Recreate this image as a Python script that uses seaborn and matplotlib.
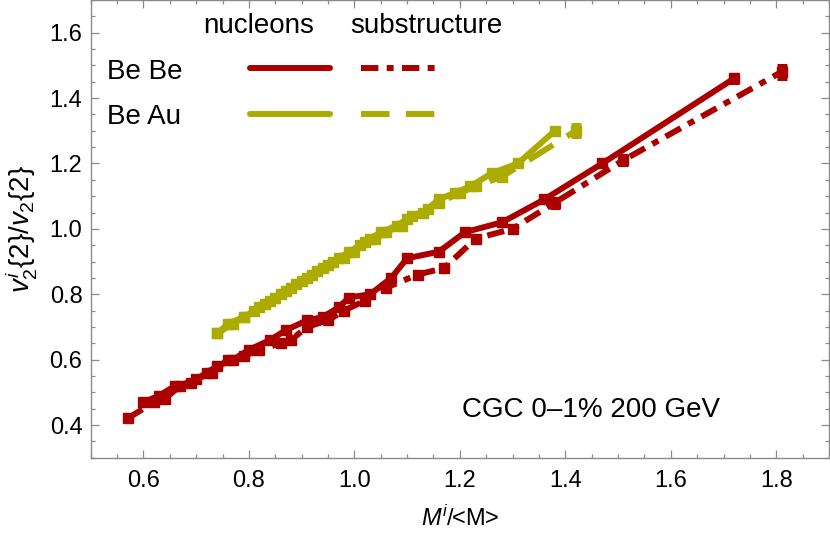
import numpy as np
import pandas as pd
import seaborn as sns
import matplotlib.pyplot as plt
from matplotlib.ticker import MultipleLocator

# Be Be, nucleons
bebe_nuc_x = [0.60, 0.63, 0.66, 0.69, 0.72, 0.74, 0.77, 0.80, 0.84, 0.87, 0.91, 0.94,
              0.97, 0.99, 1.03, 1.07, 1.10, 1.16, 1.21, 1.28, 1.36, 1.47, 1.72]
bebe_nuc_y = [0.47, 0.49, 0.52, 0.53, 0.56, 0.58, 0.60, 0.63, 0.66, 0.69, 0.72, 0.73,
              0.76, 0.79, 0.80, 0.85, 0.91, 0.93, 0.99, 1.02, 1.09, 1.20, 1.46]
bebe_nuc_err = [0.008, 0.008, 0.008, 0.008, 0.008, 0.008, 0.008, 0.008, 0.008, 0.008, 0.008, 0.008,
                0.008, 0.008, 0.008, 0.008, 0.008, 0.008, 0.009, 0.01, 0.01, 0.01, 0.015]

# Be Be, substructure
bebe_sub_x = [0.57, 0.62, 0.64, 0.67, 0.70, 0.73, 0.76, 0.79, 0.82, 0.86, 0.88, 0.91,
              0.95, 0.98, 1.02, 1.06, 1.12, 1.17, 1.23, 1.30, 1.38, 1.51, 1.81]
bebe_sub_y = [0.42, 0.47, 0.48, 0.52, 0.54, 0.56, 0.60, 0.61, 0.63, 0.65, 0.66, 0.70,
              0.72, 0.75, 0.78, 0.82, 0.86, 0.88, 0.97, 1.00, 1.08, 1.21, 1.48]
bebe_sub_err = [0.008, 0.008, 0.008, 0.008, 0.008, 0.008, 0.008, 0.008, 0.008, 0.008, 0.008, 0.008,
                0.008, 0.008, 0.009, 0.01, 0.01, 0.01, 0.012, 0.012, 0.015, 0.015, 0.022]

# Be Au, nucleons
beau_nuc_x = [0.74, 0.76, 0.79, 0.81, 0.83, 0.85, 0.87, 0.89, 0.91, 0.93, 0.95, 0.97, 0.99,
              1.01, 1.03, 1.05, 1.08, 1.10, 1.13, 1.16, 1.19, 1.22, 1.26, 1.31, 1.38]
beau_nuc_y = [0.68, 0.71, 0.73, 0.75, 0.77, 0.79, 0.81, 0.83, 0.85, 0.87, 0.89, 0.91, 0.93,
              0.95, 0.97, 0.99, 1.01, 1.03, 1.05, 1.09, 1.11, 1.13, 1.17, 1.20, 1.30]
beau_nuc_err = [0.008] * 24 + [0.01]

# Be Au, substructure
beau_sub_x = [0.74, 0.77, 0.79, 0.82, 0.84, 0.86, 0.88, 0.90, 0.92, 0.94, 0.96, 0.98,
              1.00, 1.02, 1.04, 1.06, 1.09, 1.11, 1.14, 1.16, 1.20, 1.23, 1.28, 1.42]
beau_sub_y = [0.68, 0.71, 0.73, 0.76, 0.78, 0.80, 0.82, 0.84, 0.86, 0.88, 0.90, 0.91,
              0.93, 0.96, 0.97, 0.99, 1.01, 1.04, 1.06, 1.08, 1.11, 1.13, 1.16, 1.30]
beau_sub_err = [0.008] * 22 + [0.012, 0.02]

RED = '#aa0000'
YEL = '#abab00'

sns.set_theme(style='ticks')
plt.rcParams['font.family'] = ['Liberation Sans', 'DejaVu Sans']
plt.rcParams['mathtext.fontset'] = 'custom'
plt.rcParams['mathtext.rm'] = 'Liberation Sans'
plt.rcParams['mathtext.it'] = 'Liberation Sans:italic'
plt.rcParams['lines.scale_dashes'] = False
plt.rcParams['text.color'] = 'black'
plt.rcParams['axes.labelcolor'] = 'black'

series = {
    'bebe_nuc': (bebe_nuc_x, bebe_nuc_y, bebe_nuc_err),
    'bebe_sub': (bebe_sub_x, bebe_sub_y, bebe_sub_err),
    'beau_nuc': (beau_nuc_x, beau_nuc_y, beau_nuc_err),
    'beau_sub': (beau_sub_x, beau_sub_y, beau_sub_err),
}
colors = {'bebe_nuc': RED, 'bebe_sub': RED, 'beau_nuc': YEL, 'beau_sub': YEL}
dashes = {'bebe_nuc': '', 'bebe_sub': (12.5, 6, 5, 6),
          'beau_nuc': '', 'beau_sub': (20.5, 11.8)}

df = pd.concat([pd.DataFrame({'M': s[0], 'v2': s[1], 'err': s[2], 'curve': k})
                for k, s in series.items()], ignore_index=True)

fig = plt.figure(figsize=(8.3, 5.35), dpi=100)
ax = fig.add_axes([0.1093, 0.1445, 0.8895, 0.8555])

sns.lineplot(data=df, x='M', y='v2', hue='curve', style='curve', palette=colors,
             dashes=dashes, estimator=None, sort=False, linewidth=4.3,
             legend=False, ax=ax)

for k, s in series.items():
    ax.errorbar(s[0], s[1], yerr=s[2], fmt='s', color=colors[k], markersize=7,
                elinewidth=2.2, capsize=3.6, capthick=2.2, zorder=3)

ax.set_xlim(0.5, 1.9)
ax.set_ylim(0.3, 1.7)
ax.xaxis.set_minor_locator(MultipleLocator(0.05))
ax.yaxis.set_minor_locator(MultipleLocator(0.05))
ax.set_xticks([0.6, 0.8, 1.0, 1.2, 1.4, 1.6, 1.8])
ax.set_yticks([0.4, 0.6, 0.8, 1.0, 1.2, 1.4, 1.6])

for sp in ax.spines.values():
    sp.set_color('#8a8a8a')
    sp.set_linewidth(1.0)
ax.tick_params(which='both', direction='in', top=True, right=True, color='#8a8a8a',
               width=0.9, labelcolor='black', labelsize=17)
ax.tick_params(which='major', length=5.5)
ax.tick_params(which='minor', length=3)
ax.tick_params(axis='x', pad=9)
ax.tick_params(axis='y', pad=6)

ax.set_xlabel(r'$M^i$/<M>', fontsize=17)
ax.set_ylabel(r'$v_2^i\{2\}/v_2\{2\}$', fontsize=20)
ax.xaxis.set_label_coords(0.5, -0.105)
ax.yaxis.set_label_coords(-0.07, 0.5)

# legend block
tsize = 20
ax.text(0.1517, 0.928, 'nucleons', transform=ax.transAxes, fontsize=tsize, va='baseline')
ax.text(0.3512, 0.928, 'substructure', transform=ax.transAxes, fontsize=tsize, va='baseline')
ax.text(0.0221, 0.8274, 'Be Be', transform=ax.transAxes, fontsize=tsize, va='baseline')
ax.text(0.0221, 0.7291, 'Be Au', transform=ax.transAxes, fontsize=tsize, va='baseline')
ax.plot([0.2158, 0.3241], [0.8508, 0.8508], transform=ax.transAxes, color=RED, lw=4.3)
ax.plot([0.2158, 0.3241], [0.7509, 0.7509], transform=ax.transAxes, color=YEL, lw=4.3)
ax.plot([0.366, 0.466], [0.8508, 0.8508], transform=ax.transAxes, color=RED, lw=4.3,
        dashes=dashes['bebe_sub'])
ax.plot([0.366, 0.466], [0.7509, 0.7509], transform=ax.transAxes, color=YEL, lw=4.3,
        dashes=dashes['beau_sub'])

ax.text(0.5025, 0.0883, 'CGC 0\u20131% 200 GeV', transform=ax.transAxes,
        fontsize=tsize, va='baseline')

fig.savefig('out.png', dpi=100)
